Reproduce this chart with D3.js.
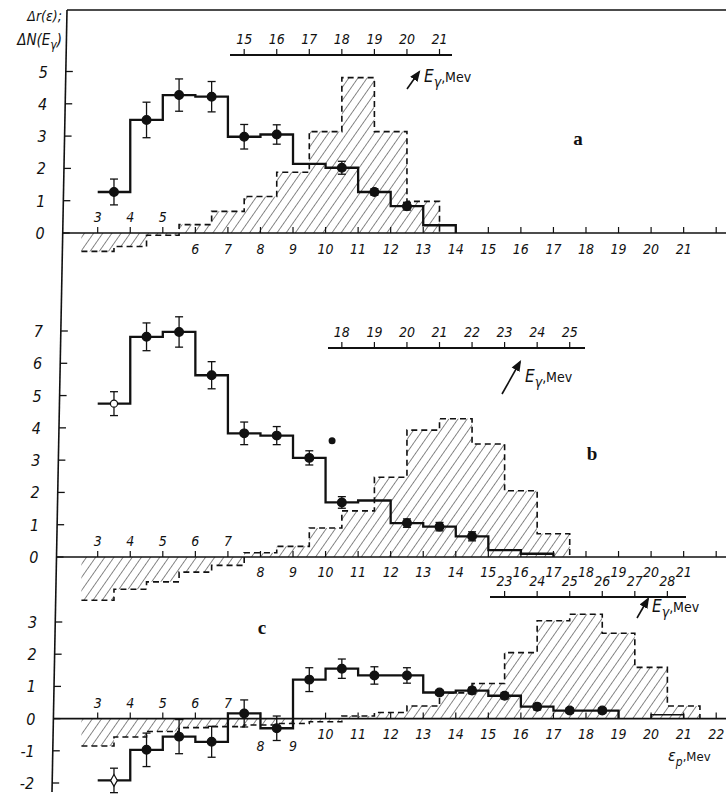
<!DOCTYPE html>
<html><head><meta charset="utf-8">
<script src="https://cdn.jsdelivr.net/npm/d3@7"></script>
<style>
body{margin:0;background:#fff}
text{font-family:"DejaVu Sans Condensed","Liberation Sans Narrow",sans-serif;font-style:italic;fill:#111}
.lt{font-family:"Liberation Serif",serif;font-style:normal;font-weight:bold}
</style></head><body><div id="chart"></div>
<script>
//// solid histograms: 1 Mev bins, first left edge = 3 Mev (εp)
const solidA    = [1.27, 3.5, 4.27, 4.22, 2.98, 3.05, 2.14, 2.02, 1.27, 0.83, 0.24];
const solidAErr = [0.4, 0.55, 0.5, 0.47, 0.38, 0.3, null, 0.2, 0.1, 0.12, null];
const solidB    = [4.75, 6.82, 6.97, 5.63, 3.83, 3.76, 3.07, 1.69, 1.75, 1.05, 0.94, 0.64, 0.21, 0.1];
const solidBErr = [0.37, 0.43, 0.47, 0.42, 0.35, 0.28, 0.22, 0.18, null, 0.13, 0.13, 0.14, null, null];
const solidC    = [-1.92, -0.97, -0.56, -0.72, 0.16, -0.3, 1.21, 1.55, 1.34, 1.34, 0.81, 0.87, 0.71, 0.37, 0.25, 0.25];
const solidCErr = [0.38, 0.52, 0.53, 0.48, 0.42, 0.38, 0.37, 0.3, 0.27, 0.24, 0.07, 0.1, 0.1, 0.1, 0.08, 0.08];
const extraBoxC = {from: 20, to: 21, v: 0.12};
const strayDotB = {e: 10.2, v: 3.6};

//// dashed (hatched) histograms: 1 Mev bins, first left edge = 2.5 Mev (Eγ = εp + 7.5)
const dashedA = [-0.57, -0.42, -0.07, 0.26, 0.67, 1.13, 1.88, 3.14, 4.81, 3.14, 0.98];
const dashedB = [-1.34, -1.0, -0.77, -0.47, -0.26, 0.13, 0.33, 0.9, 1.43, 2.47, 3.93, 4.28, 3.5, 2.05, 0.72];
const dashedC = [-0.85, -0.57, -0.4, -0.28, -0.25, -0.2, -0.15, -0.1, 0.08, 0.19, 0.39, 0.8, 1.09, 2.05, 3.04, 3.24, 2.65, 1.59, 0.39];

//// tick labels
const epTicks = d3.range(3, 23);
const gammaA = d3.range(15, 22);
const gammaB = d3.range(18, 26);
const gammaC = d3.range(23, 29);

const W = 726, H = 794;
const svg = d3.select("#chart").append("svg").attr("width", W).attr("height", H);

const x = d3.scaleLinear().domain([3, 22]).range([97.7, 716.2]);
const xg = d3.scaleLinear().domain([10.5, 29.5]).range([97.7, 716.2]); // Eγ axis
const axisX = y => 67 - (y - 10) * 15 / 782;   // left frame line is a bit slanted in the scan

const defs = svg.append("defs");
defs.append("pattern").attr("id", "hatch")
    .attr("patternUnits", "userSpaceOnUse").attr("width", 7.5).attr("height", 8)
    .attr("patternTransform", "rotate(35)")
  .append("line").attr("x1", 0).attr("y1", 0).attr("x2", 0).attr("y2", 8)
    .attr("stroke", "#111").attr("stroke-width", 1);
defs.append("marker").attr("id", "arr").attr("viewBox", "0 0 10 10")
    .attr("refX", 8).attr("refY", 5).attr("markerWidth", 7).attr("markerHeight", 7)
    .attr("orient", "auto")
  .append("path").attr("d", "M0,1 L10,5 L0,9 z").attr("fill", "#111");

// frame
svg.append("line").attr("x1", axisX(10)).attr("y1", 10).attr("x2", axisX(792)).attr("y2", 792)
   .attr("stroke", "#111").attr("stroke-width", 1.6);
svg.append("line").attr("x1", axisX(10)).attr("y1", 10).attr("x2", W).attr("y2", 10)
   .attr("stroke", "#111").attr("stroke-width", 1.6);

// y-axis title
const yt = svg.append("g");
yt.append("text").attr("x", 62).attr("y", 21).attr("text-anchor", "end").style("font-size", "14px").text("Δr(ε);");
const yt2 = yt.append("text").attr("x", 62).attr("y", 45).attr("text-anchor", "end").style("font-size", "15px");
yt2.append("tspan").text("ΔN(E");
yt2.append("tspan").attr("dy", 4).style("font-size", "12px").text("γ");
yt2.append("tspan").attr("dy", -4).text(")");

const panels = [
  {letter: "a", y: d3.scaleLinear().domain([0, 5]).range([233, 71.5]), yTicks: d3.range(0, 6),
   solid: solidA, err: solidAErr, dashed: dashedA, openFirst: null,
   gTicks: gammaA, gLine: [230, 452], gY: 55,
   above: [3, 4, 5], belowY: 254, belowLow: [], lowY: 0,
   arrow: [407, 89, 419, 72], eg: [424, 82], lt: [578, 145]},
  {letter: "b", y: d3.scaleLinear().domain([0, 7]).range([557, 331]), yTicks: d3.range(0, 8),
   solid: solidB, err: solidBErr, dashed: dashedB, openFirst: "circle",
   gTicks: gammaB, gLine: [328, 585], gY: 348,
   above: [3, 4, 5, 6, 7], belowY: 577, belowLow: [], lowY: 0,
   arrow: [502, 394, 520, 362], eg: [525, 382], lt: [592, 460]},
  {letter: "c", y: d3.scaleLinear().domain([-2, 3]).range([783, 622]), yTicks: d3.range(-2, 4),
   solid: solidC, err: solidCErr, dashed: dashedC, openFirst: "diamond",
   gTicks: gammaC, gLine: [490, 686], gY: 597,
   above: [3, 4, 5, 6, 7], belowY: 739, belowLow: [8, 9], lowY: 751,
   arrow: [637, 618, 648, 599], eg: [652, 612], lt: [262, 634]}
];

panels.forEach(p => {
  const g = svg.append("g");
  const y = p.y, y0 = y(0);

  // hatched dashed histogram
  const dpts = p.dashed.map((v, i) => ({e: 2.5 + i, v}));
  dpts.push({e: 2.5 + p.dashed.length, v: p.dashed[p.dashed.length - 1]});
  g.append("path").datum(dpts)
    .attr("d", d3.area().curve(d3.curveStepAfter).x(d => x(d.e)).y0(y0).y1(d => y(d.v)))
    .attr("fill", "url(#hatch)");
  const dline = dpts.concat([{e: dpts[dpts.length - 1].e, v: 0}]);
  g.append("path").datum(dline)
    .attr("d", d3.line().curve(d3.curveStepAfter).x(d => x(d.e)).y(d => y(d.v)))
    .attr("fill", "none").attr("stroke", "#111").attr("stroke-width", 1.6)
    .attr("stroke-dasharray", "6,4");

  // zero line with ticks
  const zx = axisX(y0);
  g.append("line").attr("x1", zx).attr("x2", W).attr("y1", y0).attr("y2", y0)
    .attr("stroke", "#111").attr("stroke-width", 1.6);
  g.selectAll(".xt").data(epTicks).enter().append("line")
    .attr("x1", d => x(d)).attr("x2", d => x(d)).attr("y1", y0).attr("y2", y0 - 6)
    .attr("stroke", "#111").attr("stroke-width", 1.2);
  g.selectAll(".xl").data(epTicks.filter(d => d <= 21 || p.letter === "c")).enter().append("text")
    .attr("x", d => x(d)).attr("text-anchor", "middle").style("font-size", "14px")
    .attr("y", d => p.above.includes(d) ? y0 - 11 : (p.belowLow.includes(d) ? p.lowY : p.belowY))
    .text(d => d);

  // y axis ticks
  g.selectAll(".yt").data(p.yTicks).enter().append("line")
    .attr("x1", d => axisX(y(d))).attr("x2", d => axisX(y(d)) + 7)
    .attr("y1", d => y(d)).attr("y2", d => y(d)).attr("stroke", "#111").attr("stroke-width", 1.3);
  g.selectAll(".yl").data(p.yTicks).enter().append("text")
    .attr("x", d => axisX(y(d)) - 18).attr("y", d => y(d) + 6)
    .attr("text-anchor", "end").style("font-size", "16px").text(d => d);

  // solid histogram
  const spts = p.solid.map((v, i) => ({e: 3 + i, v}));
  spts.push({e: 3 + p.solid.length, v: p.solid[p.solid.length - 1]});
  spts.push({e: 3 + p.solid.length, v: 0});
  g.append("path").datum(spts)
    .attr("d", d3.line().curve(d3.curveStepAfter).x(d => x(d.e)).y(d => y(d.v)))
    .attr("fill", "none").attr("stroke", "#111").attr("stroke-width", 2.3);

  // error bars and points
  const pts = p.solid.map((v, i) => ({e: 3.5 + i, v, s: p.err[i], i})).filter(d => d.s != null);
  pts.forEach(d => {
    const cx = x(d.e);
    g.append("line").attr("x1", cx).attr("x2", cx).attr("y1", y(d.v + d.s)).attr("y2", y(d.v - d.s))
      .attr("stroke", "#111").attr("stroke-width", 1.3);
    [d.v + d.s, d.v - d.s].forEach(t => g.append("line")
      .attr("x1", cx - 4).attr("x2", cx + 4).attr("y1", y(t)).attr("y2", y(t))
      .attr("stroke", "#111").attr("stroke-width", 1.3));
    const open = d.i === 0 && p.openFirst;
    g.append("path")
      .attr("d", d3.symbol().type(open === "diamond" ? d3.symbolDiamond : d3.symbolCircle).size(open ? 40 : 60)())
      .attr("transform", `translate(${cx},${y(d.v)})`)
      .attr("fill", open ? "#fff" : "#111").attr("stroke", "#111").attr("stroke-width", 1.2);
  });

  // Eγ axis
  g.append("line").attr("x1", p.gLine[0]).attr("x2", p.gLine[1]).attr("y1", p.gY).attr("y2", p.gY)
    .attr("stroke", "#111").attr("stroke-width", 1.8);
  g.selectAll(".gt").data(p.gTicks).enter().append("line")
    .attr("x1", d => xg(d)).attr("x2", d => xg(d)).attr("y1", p.gY).attr("y2", p.gY - 6)
    .attr("stroke", "#111").attr("stroke-width", 1.2);
  g.selectAll(".gl").data(p.gTicks).enter().append("text")
    .attr("x", d => xg(d)).attr("y", p.gY - 11).attr("text-anchor", "middle")
    .style("font-size", "14px").text(d => d);

  g.append("line").attr("x1", p.arrow[0]).attr("y1", p.arrow[1]).attr("x2", p.arrow[2]).attr("y2", p.arrow[3])
    .attr("stroke", "#111").attr("stroke-width", 1.6).attr("marker-end", "url(#arr)");
  const eg = g.append("text").attr("x", p.eg[0]).attr("y", p.eg[1]).style("font-size", "17px");
  eg.append("tspan").text("E");
  eg.append("tspan").attr("dy", 5).style("font-size", "14px").text("γ");
  eg.append("tspan").attr("dy", -5).style("font-style", "normal").style("font-size", "14px").text(",Mev");

  g.append("text").attr("class", "lt").attr("x", p.lt[0]).attr("y", p.lt[1])
    .attr("text-anchor", "middle").style("font-size", "19px").text(p.letter);

  if (p.letter === "b") {
    g.append("circle").attr("cx", x(strayDotB.e)).attr("cy", y(strayDotB.v)).attr("r", 3.5).attr("fill", "#111");
  }
  if (p.letter === "c") {
    g.append("path")
      .attr("d", d3.line()([[x(extraBoxC.from), y0], [x(extraBoxC.from), y(extraBoxC.v)],
                           [x(extraBoxC.to), y(extraBoxC.v)], [x(extraBoxC.to), y0]]))
      .attr("fill", "none").attr("stroke", "#111").attr("stroke-width", 1.5);
    const ep = g.append("text").attr("x", 668).attr("y", 761).style("font-size", "16px");
    ep.append("tspan").text("ε");
    ep.append("tspan").attr("dy", 5).style("font-size", "12px").text("p");
    ep.append("tspan").attr("dy", -5).style("font-style", "normal").style("font-size", "13px").text(",Mev");
  }
});
</script></body></html>
